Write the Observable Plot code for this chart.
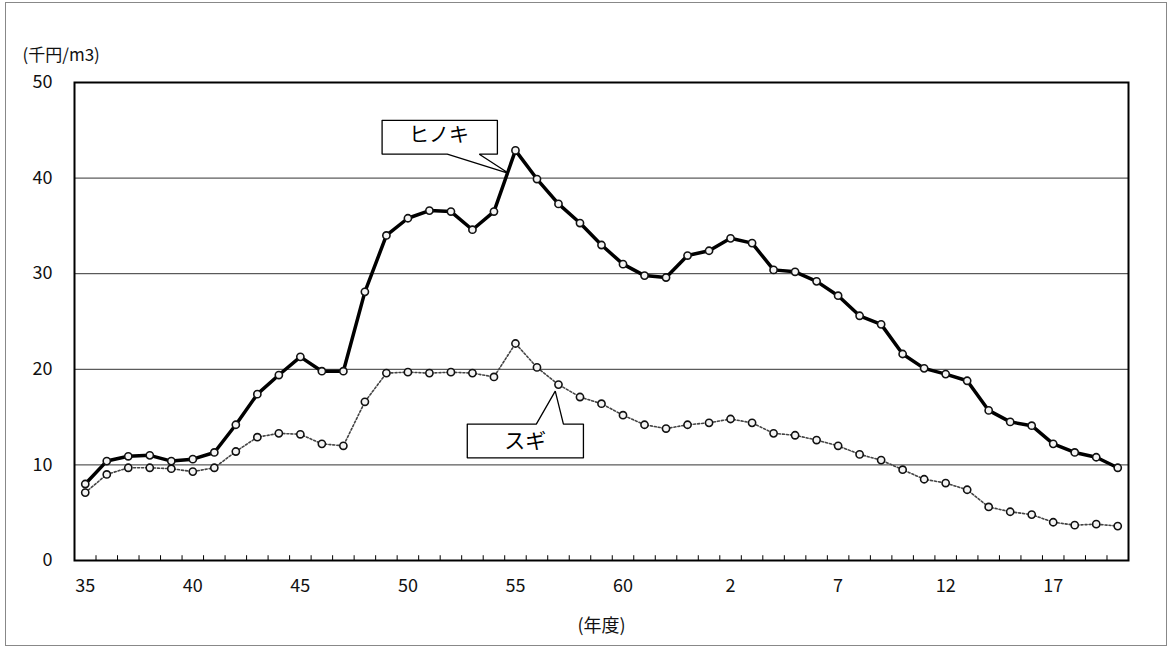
<!DOCTYPE html>
<html><head><meta charset="utf-8">
<script src="https://cdn.jsdelivr.net/npm/d3@7"></script>
<script src="https://cdn.jsdelivr.net/npm/@observablehq/plot@0.6"></script>
<style>
body{margin:0;background:#fff;}
#wrap{position:relative;width:1169px;height:648px;overflow:hidden;background:#fff;}
#border{position:absolute;left:5px;top:2px;width:1160px;height:642px;border:1px solid #888;pointer-events:none;}
#wrap svg{position:absolute;left:0;top:0;}
</style></head><body><div id="wrap"><div id="border"></div></div>
<script>
// 年度 labels: 昭和35〜63, 平成1〜20
const years = ["35","36","37","38","39","40","41","42","43","44","45","46","47","48","49","50","51","52","53","54","55","56","57","58","59","60","61","62","63",
  "1","2","3","4","5","6","7","8","9","10","11","12","13","14","15","16","17","18","19","20"];
// ヒノキ (千円/m3)
const hinoki = [8.0,10.4,10.9,11.0,10.4,10.6,11.3,14.2,17.4,19.4,21.3,19.8,19.8,28.1,34.0,35.8,36.6,36.5,34.6,36.5,
  42.9,39.9,37.3,35.3,33.0,31.0,29.8,29.6,31.9,32.4,33.7,33.2,30.4,30.2,29.2,27.7,25.6,24.7,21.6,20.1,
  19.5,18.8,15.7,14.5,14.1,12.2,11.3,10.8,9.7];
// スギ
const sugi = [7.1,9.0,9.7,9.7,9.6,9.3,9.7,11.4,12.9,13.3,13.2,12.2,12.0,16.6,19.6,19.7,19.6,19.7,19.6,19.2,
  22.7,20.2,18.4,17.1,16.4,15.2,14.2,13.8,14.2,14.4,14.8,14.4,13.3,13.1,12.6,12.0,11.1,10.5,9.5,8.5,
  8.1,7.4,5.6,5.1,4.8,4.0,3.7,3.8,3.6];
const tickYears = ["35","40","45","50","55","60","2","7","12","17"];
const yTicks = [0,10,20,30,40,50];
const gridValues = [10,20,30,40];
const unitLabel = "(千円/m3)";
const xLabel = "(年度)";
// callout shapes in data coordinates (x = year index, y = value)
const hinokiCallout = [[13.80,46.04],[19.16,46.04],[19.16,42.5],[18.32,42.5],[19.68,40.5],[16.83,42.5],[13.80,42.5],[13.80,46.04]];
const hinokiLabel = [{x:16.45, y:44.4, text:"ヒノキ"}];
const sugiCallout = [[17.76,14.27],[20.97,14.27],[21.85,17.71],[22.23,14.27],[23.16,14.27],[23.16,10.73],[17.76,10.73],[17.76,14.27]];
const sugiLabel = [{x:20.46, y:12.5, text:"スギ"}];

const rows = years.map((yr,i)=>({i, year:yr, hinoki:hinoki[i], sugi:sugi[i]}));
const tickIdx = tickYears.map(t => years.indexOf(t));
const boundaries = d3.range(1, years.length).map(k => k - 0.5);
const FONT = '"Noto Sans CJK JP","Noto Sans",sans-serif';

const plot = Plot.plot({
  width:1169, height:648,
  marginLeft:74, marginRight:41, marginTop:82, marginBottom:88,
  style:{fontFamily:FONT, fontSize:"18px", color:"#111", background:"transparent"},
  x:{type:"linear", domain:[-0.5, years.length-0.5]},
  y:{domain:[0,50]},
  marks:[
    Plot.ruleY(gridValues, {stroke:"#333", strokeWidth:1}),
    Plot.ruleX(boundaries, {y1:0, y2:0.5, stroke:"#000", strokeWidth:1}),
    Plot.axisY(yTicks, {tickSize:0, tickPadding:22, fontSize:18, label:null}),
    Plot.axisX(tickIdx, {tickSize:0, tickPadding:19, fontSize:18, tickFormat: i => years[i], label:null}),
    Plot.line(rows, {x:"i", y:"sugi", stroke:"#444", strokeWidth:1.6, strokeDasharray:"2,2"}),
    Plot.dot(rows, {x:"i", y:"sugi", r:3.6, stroke:"#111", strokeWidth:1.6, fill:"#f4f4f4"}),
    Plot.line(rows, {x:"i", y:"hinoki", stroke:"#000", strokeWidth:3.5}),
    Plot.dot(rows, {x:"i", y:"hinoki", r:3.6, stroke:"#111", strokeWidth:1.6, fill:"#f4f4f4"}),
    Plot.line(hinokiCallout, {x:d=>d[0], y:d=>d[1], stroke:"#000", strokeWidth:1.3, fill:"#fff", strokeLinejoin:"miter"}),
    Plot.text(hinokiLabel, {x:"x", y:"y", text:"text", fontSize:20, fill:"#000"}),
    Plot.line(sugiCallout, {x:d=>d[0], y:d=>d[1], stroke:"#000", strokeWidth:1.3, fill:"#fff", strokeLinejoin:"miter"}),
    Plot.text(sugiLabel, {x:"x", y:"y", text:"text", fontSize:21, fill:"#000"}),
    Plot.frame({stroke:"#000", strokeWidth:2}),
    Plot.text([unitLabel], {frameAnchor:"top-left", text:d=>d, dx:-52, dy:-34, textAnchor:"start", fontSize:17, fill:"#111"}),
    Plot.text([xLabel], {frameAnchor:"bottom", text:d=>d, dy:71, fontSize:18, fill:"#111", letterSpacing:"3px"})
  ]
});
document.getElementById("wrap").appendChild(plot);
</script>
</body></html>
